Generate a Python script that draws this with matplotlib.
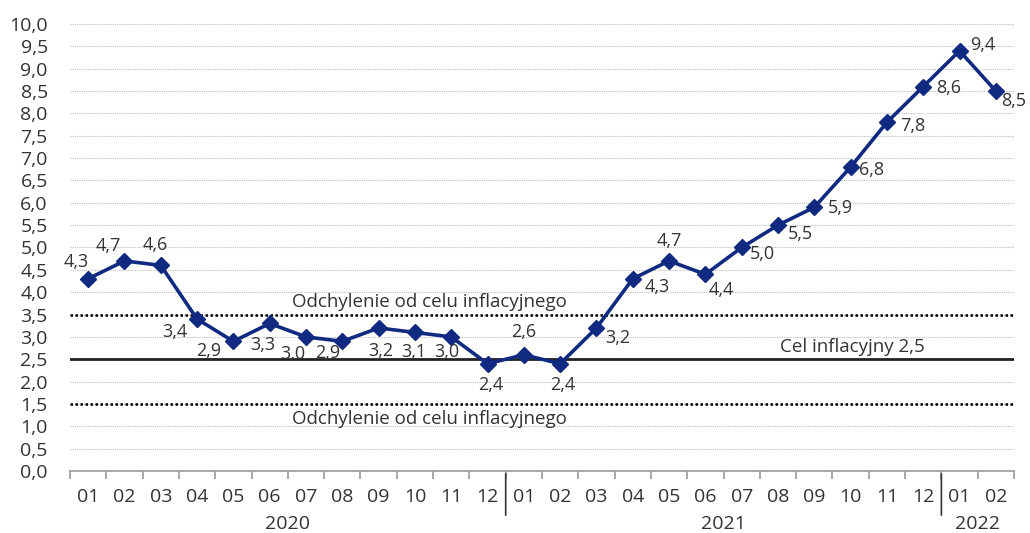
import matplotlib.pyplot as plt
from matplotlib import font_manager

names = {f.name for f in font_manager.fontManager.ttflist}
fam = "Liberation Sans Narrow" if "Liberation Sans Narrow" in names else "Open Sans"
plt.rcParams['font.family'] = [fam, 'DejaVu Sans']

months = ["01", "02", "03", "04", "05", "06", "07", "08", "09", "10", "11", "12",
          "01", "02", "03", "04", "05", "06", "07", "08", "09", "10", "11", "12",
          "01", "02"]
values = [4.3, 4.7, 4.6, 3.4, 2.9, 3.3, 3.0, 2.9, 3.2, 3.1, 3.0, 2.4,
          2.6, 2.4, 3.2, 4.3, 4.7, 4.4, 5.0, 5.5, 5.9, 6.8, 7.8, 8.6,
          9.4, 8.5]
years = ["2020", "2021", "2022"]
year_spans = [(0, 11), (12, 23), (24, 25)]
target = 2.5
band = [1.5, 3.5]

# label offsets in pixels (dx, dy) relative to marker
offsets = [(-12, 17), (-16, 15), (-6, 20), (-22, -13), (-25, -10), (-7, -22),
           (-13, -17), (-15, -12), (2, -23), (-1, -20), (-4, -15), (3, -21),
           (0, 23), (3, -21), (21, -10), (24, -8), (0, 20), (16, -16),
           (21, -7), (22, -9), (26, -1), (21, -3), (26, -4), (25, -1),
           (23, 6), (18, -10)]

navy = "#0f2a80"
txt = "#333333"

fig = plt.figure(figsize=(10.3, 5.33), dpi=100)
ax = fig.add_axes([70 / 1030, 62 / 533, 944 / 1030, 447 / 533])
x = list(range(len(values)))
ax.set_xlim(-0.5, len(values) - 0.5)
ax.set_ylim(0, 10)

for yv in [i * 0.5 for i in range(1, 21)]:
    ax.axhline(yv, color="#bdbdbd", lw=0.8, ls=(0, (1, 1)), zorder=1)
for yv in band:
    ax.axhline(yv, color="black", lw=1.8, ls=(0, (1, 1)), zorder=2)
ax.axhline(target, color="#222222", lw=2, zorder=2)

ax.plot(x, values, color=navy, lw=2.6, marker="D", ms=8.5, zorder=3)

for i, v in enumerate(values):
    dx, dy = offsets[i]
    ax.annotate(f"{v:.1f}".replace(".", ","), (i, v), xytext=(dx * 0.72, dy * 0.72),
                textcoords="offset points", ha="center", va="center",
                fontsize=13, color=txt, zorder=4)

ax.text(9.4, 3.57, "Odchylenie od celu inflacyjnego", ha="center", va="bottom",
        fontsize=13.5, color=txt)
ax.text(9.4, 1.36, "Odchylenie od celu inflacyjnego", ha="center", va="top",
        fontsize=13.5, color=txt)
ax.text(21.05, 2.57, "Cel inflacyjny 2,5", ha="center", va="bottom",
        fontsize=13.5, color=txt)

for s in ["top", "right", "left"]:
    ax.spines[s].set_visible(False)
ax.spines["bottom"].set_color("#999999")
ax.spines["bottom"].set_linewidth(1.2)

ax.set_yticks([i * 0.5 for i in range(21)])
ax.set_yticklabels([f"{i * 0.5:.1f}".replace(".", ",") for i in range(21)])
ax.tick_params(axis="y", length=0, pad=16, labelsize=14, labelcolor=txt)

ax.set_xticks(x)
ax.set_xticklabels(months)
ax.set_xticks([i - 0.5 for i in range(len(values) + 1)], minor=True)
ax.tick_params(axis="x", which="major", length=0, pad=12, labelsize=14, labelcolor=txt)
ax.tick_params(axis="x", which="minor", length=6, color="#999999", width=1.2)

for k, (a, b) in enumerate(year_spans):
    ax.annotate(years[k], ((a + b) / 2, 0), xycoords=("data", "axes fraction"),
                xytext=(0, -38), textcoords="offset points", ha="center",
                va="center", fontsize=14, color=txt, annotation_clip=False)
for sep in [11.5, 23.5]:
    ax.annotate("", (sep, 0), xycoords=("data", "axes fraction"),
                xytext=(sep, -0.105), textcoords=("data", "axes fraction"),
                arrowprops=dict(arrowstyle="-", color="#333333", lw=1.2),
                annotation_clip=False)

fig.savefig("out.png", dpi=100)
